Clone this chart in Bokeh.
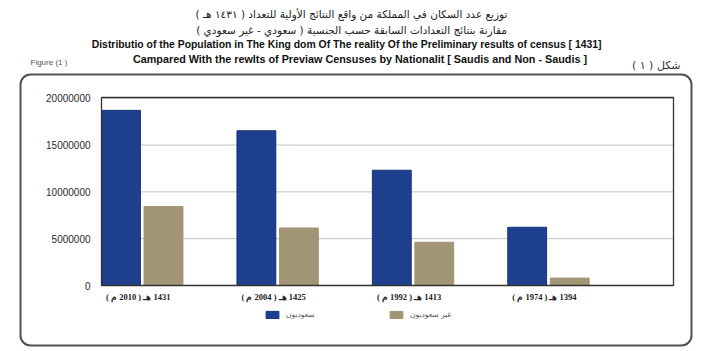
from bokeh.plotting import figure
from bokeh.models import (Range1d, Label, BoxAnnotation, Legend, LegendItem, ColumnDataSource)
from bokeh.core.properties import value
from bokeh.embed import file_html
from bokeh.resources import INLINE

# ---------------- data ----------------
categories = ["1431 هـ ( 2010 م )", "1425 هـ ( 2004 م )", "1413 هـ ( 1992 م )", "1394 هـ ( 1974 م )"]
saudis = [18707576, 16527340, 12310053, 6218361]
non_saudis = [8429401, 6144236, 4624459, 791105]
series_names = ["سعوديون", "غير سعوديون"]
y_ticks = [0, 5000000, 10000000, 15000000, 20000000]

title_ar1 = "توزيع عدد السكان في المملكة من واقع النتائج الأولية للتعداد ( ١٤٣١ هـ )"
title_ar2 = "مقارنة بنتائج التعدادات السابقة حسب الجنسية ( سعودي - غير سعودي )"
title_en1 = "Distributio of the Population in The King dom Of The reality Of the Preliminary results of census   [ 1431]"
title_en2 = "Campared With the  rewlts of Previaw Censuses by Nationalit [ Saudis and Non - Saudis ]"
fig_en = "Figure (1 )"
fig_ar = "شكل ( ١ )"

RLE, PDF = "\u202b", "\u202c"

# ---------------- layout constants (pixels) ----------------
W, H = 702, 351
PL, PR, PT, PB = 101, 673, 97, 285       # plotting area on the page
GC0, GSP = 141.75, 135.4                  # first group centre, group spacing
YMAX = 20.08e6
ppu = (PB - PT) / YMAX                    # pixels per person

x_lo, x_hi = (0 - GC0) / GSP, (W - GC0) / GSP
y_lo, y_hi = -(H - PB) / ppu, PB / ppu
pa_left, pa_right = (PL - GC0) / GSP, (PR - GC0) / GSP

p = figure(width=W, height=H, output_backend="svg", toolbar_location=None,
           x_range=Range1d(x_lo, x_hi), y_range=Range1d(y_lo, y_hi),
           min_border=0, x_axis_location=None, y_axis_location=None,
           background_fill_color="white", border_fill_color="white")
p.outline_line_color = None
p.xgrid.visible = False
p.ygrid.visible = False

# gridlines (through the y scale)
grid_src = ColumnDataSource(dict(y=y_ticks[1:], x0=[pa_left] * 4, x1=[pa_right] * 4))
p.segment(x0="x0", x1="x1", y0="y", y1="y", source=grid_src, line_color="#c4c4c4", line_width=1)

# bars
idx = list(range(len(categories)))
src = ColumnDataSource(dict(xs=[i - 0.157 for i in idx], xn=[i + 0.157 for i in idx],
                            s=saudis, n=non_saudis))
r1 = p.vbar(x="xs", top="s", width=0.287, source=src, fill_color="#1e3f8e", line_color="#16347a", line_width=1)
r2 = p.vbar(x="xn", top="n", width=0.287, source=src, fill_color="#a29576", line_color="#a29576", line_width=1)

# plotting-area frame
p.add_layout(BoxAnnotation(left=pa_left, right=pa_right, bottom=0, top=YMAX,
                           fill_alpha=0, line_color="#333333", line_alpha=1, line_width=1.3))

# y tick labels
ytl = ColumnDataSource(dict(x=[pa_left] * len(y_ticks), y=y_ticks, t=[str(v) for v in y_ticks]))
p.text(x="x", y="y", text="t", source=ytl, x_offset=-11, text_align="right", text_baseline="middle",
       text_font=value("Liberation Sans"), text_font_size="10px", text_color="#2a2a2a")

# x tick labels
xtl = ColumnDataSource(dict(x=idx, y=[0] * len(idx), t=[RLE + c + PDF for c in categories]))
p.text(x="x", y="y", text="t", source=xtl, x_offset=-4, y_offset=11, text_align="center",
       text_baseline="middle", text_font=value("Liberation Serif"), text_font_style="bold",
       text_font_size="8.5px", text_color="#222222")

# rounded outer box
BL, BR, BT, BB = 20, 691, 74, 345
p.add_layout(BoxAnnotation(left=BL, right=BR, top=H - BT, bottom=H - BB,
                           left_units="screen", right_units="screen", top_units="screen", bottom_units="screen",
                           fill_alpha=0, line_color="#505050", line_alpha=1, line_width=2, border_radius=10))


def add_text(txt, x, y, size, font="Liberation Sans", style="normal", align="center", color="#222222"):
    p.add_layout(Label(x=x, y=H - y, x_units="screen", y_units="screen", text=txt,
                       text_font=font, text_font_size=size, text_font_style=style,
                       text_align=align, text_baseline="middle", text_color=color))


add_text(RLE + title_ar1 + PDF, 351, 13, "10.5px", font="DejaVu Sans")
add_text(RLE + title_ar2 + PDF, 351, 29, "10.5px", font="DejaVu Sans")
add_text(title_en1, 349, 44, "10.4px", style="bold", color="#111111")
add_text(title_en2, 361, 58, "10.8px", style="bold", color="#111111")
add_text(fig_en, 30, 62, "8px", align="left", color="#555555")
add_text(RLE + fig_ar + PDF, 680, 65, "11px", font="DejaVu Sans", align="right", color="#333333")

legend = Legend(items=[LegendItem(label=series_names[0], renderers=[r1]),
                       LegendItem(label=series_names[1], renderers=[r2])],
                orientation="horizontal", location=(264, H - 319),
                padding=0, margin=0, spacing=0, label_width=102, glyph_width=16, glyph_height=9,
                label_standoff=6, label_text_font_size="7.5px", label_text_color="#555555",
                label_text_font="DejaVu Sans", label_height=9,
                border_line_alpha=0, background_fill_alpha=0)
p.add_layout(legend, "center")

open("out.html", "w").write(file_html(p, INLINE))
